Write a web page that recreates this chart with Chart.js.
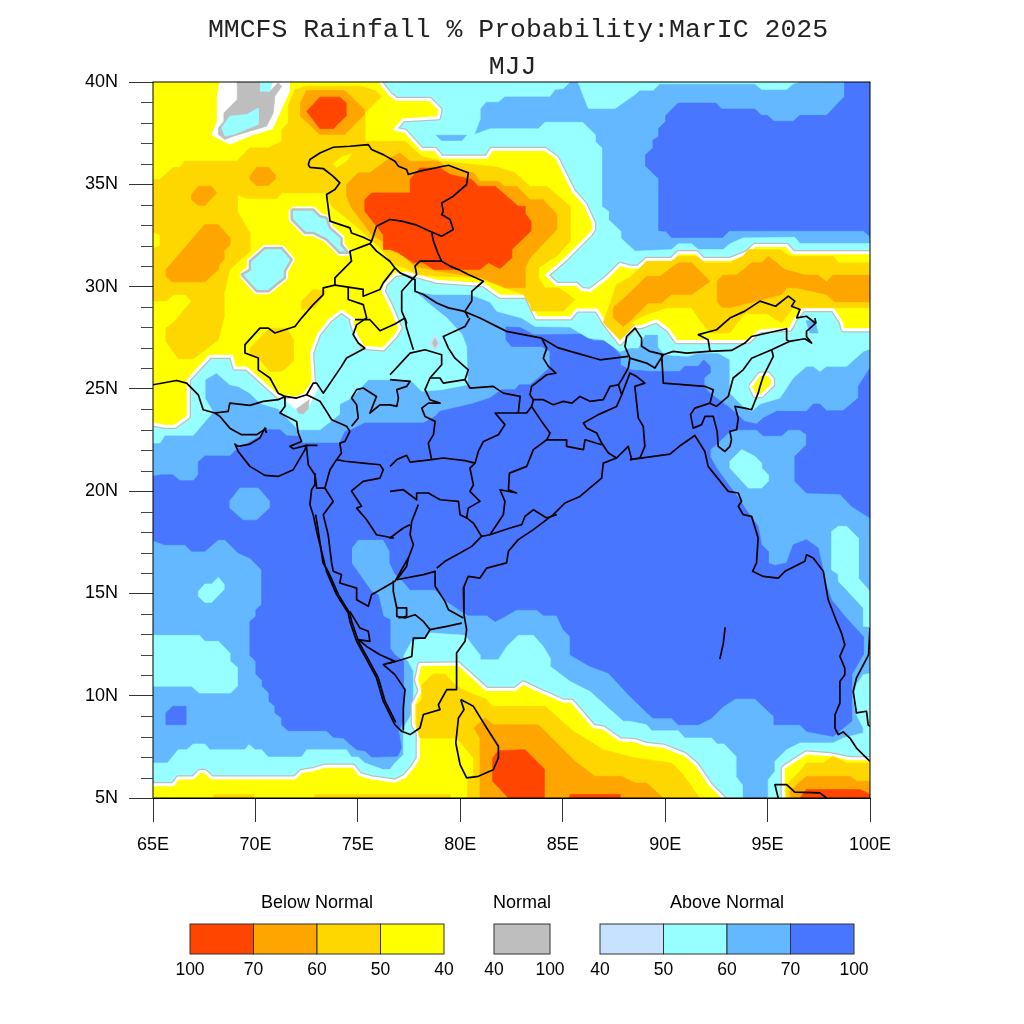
<!DOCTYPE html>
<html>
<head>
<meta charset="utf-8">
<title>MMCFS Rainfall % Probability</title>
<style>
html,body{margin:0;padding:0;background:#fff}
#box{position:absolute;left:0;top:0;width:1024px;height:1024px}
</style>
<script src="https://cdn.jsdelivr.net/npm/chart.js@4/dist/chart.umd.min.js"></script>
</head>
<body>
<div id="box"><canvas id="chart" width="1024" height="1024"></canvas></div>
<script>
'use strict';
// ---- text ----
const titleText = 'MMCFS Rainfall % Probability:MarIC 2025';
const subtitleText = 'MJJ';
const lonLabels = ['65E','70E','75E','80E','85E','90E','95E','100E'];
const latLabels = ['5N','10N','15N','20N','25N','30N','35N','40N'];

// ---- colour classes (legend) ----
const belowColors = ['#FF4500','#FFA500','#FFD700','#FFFF00'];
const belowLabels = ['100','70','60','50','40'];
const normalColors = ['#BEBEBE'];
const normalLabels = ['40','100'];
const aboveColors = ['#C6E2FF','#97FFFF','#63B8FF','#4876FF'];
const aboveLabels = ['40','50','60','70','100'];

// ---- probability regions, flat lon,lat lists ----
const fieldBase = [64,4, 101,4, 101,41, 64,41];
const above70North = [98.77,41, 98.77,39.3, 97.88,38.37, 96.58,38.37, 96.25,38.08, 95.31,38.08, 94.98,38.37, 94.71,38.37, 94.38,38.68, 92.75,38.68, 92.48,38.97, 90.64,38.97, 90.04,38.37, 90.04,38.08, 89.7,37.75, 89.7,37.34, 89.42,37.18, 89.42,36.8, 89.06,36.45, 89.06,35.88, 89.7,35.26, 89.7,32.73, 90.04,32.7, 90.31,32.4, 92.8,32.4, 93.13,32.73, 99.67,32.73, 100,32.45, 101,32.45, 101,41];
const above70Main = [64,20.56, 65.42,20.8, 65.96,20.8, 66.31,20.51, 66.97,20.51, 67.21,20.8, 67.21,21.42, 67.53,21.72, 68.75,21.72, 69.08,22.03, 69.65,22.35, 70.22,22.68, 70.46,23, 71.2,23, 71.52,22.71, 72.09,22.68, 72.3,22.35, 74.12,22.35, 74.37,22.92, 74.69,23, 75.34,23.33, 76.81,23.33, 78.2,23.33, 78.77,23.65, 79.01,23.9, 80.56,24.26, 81.45,24.55, 82.02,24.96, 82.67,24.96, 82.88,25.2, 83.4,25.2, 83.81,25.53, 84.38,26.05, 84.38,26.83, 83.97,27.07, 82.51,27.07, 82.23,27.4, 82.23,28.02, 82.92,28, 83.57,27.65, 84.3,27.65, 86.01,27.68, 86.5,27.35, 87.15,27.35, 87.8,26.67, 87.8,26.18, 88.28,25.93, 89.34,25.85, 89.99,25.85, 90.72,25.85, 90.96,26.1, 91.62,26.1, 91.89,26.42, 92.19,26.1, 92.19,25.77, 91.89,25.53, 91.89,25.12, 92.19,24.79, 93.16,24.06, 93.89,23.41, 94.46,23.28, 94.79,23.57, 95.44,23.9, 96.9,23.9, 97.23,24.26, 97.55,24.26, 97.88,23.93, 98.69,23.93, 99.43,24.55, 99.43,25.12, 100,26.02, 101,26.02, 101,18.69, 100,18.69, 99.1,19.26, 98.53,19.86, 96.9,19.91, 96.33,20.48, 96.33,21.7, 96.9,22.27, 96.9,22.76, 96.58,23, 96.01,23, 95.68,22.71, 94.79,22.71, 94.46,23, 93.49,23, 93.16,22.92, 92.48,22.27, 92.19,22.03, 92.19,21.7, 92.51,21.13, 93.16,20.23, 93.65,19.58, 93.89,19.17, 94.54,18.28, 94.71,17.38, 95.03,17.06, 95.03,16.49, 95.36,16.37, 95.93,16.49, 96.25,17.38, 96.9,17.63, 97.47,17.22, 97.64,16.49, 97.88,15.35, 98.12,14.69, 98.77,13.88, 99.67,12.9, 99.67,12, 99.1,11.03, 99.1,8.75, 98.2,8.01, 96.9,8.26, 96.58,8.58, 95.31,8.58, 95.31,8.99, 94.38,9.86, 93.45,9.86, 92.84,9.48, 92.27,8.91, 91.62,8.58, 90.64,8.58, 90.31,8.91, 89.39,8.91, 88.28,9.97, 87.23,11.11, 86.33,11.44, 85.36,12, 85.36,12.9, 85.03,13.23, 84.7,13.93, 84.05,13.93, 83.73,14.2, 82.75,14.2, 82.1,13.83, 81.7,13.63, 81.29,13.93, 80.35,13.93, 79.34,14.61, 78.77,15.18, 77.55,15.18, 77.14,15.67, 76.81,15.95, 76.56,16.49, 76.56,17.06, 76.24,17.63, 75.02,17.63, 74.69,17.22, 74.69,16.49, 75.67,15.1, 76,14.94, 76.24,13.88, 76.56,13.72, 76.56,12.33, 76.81,12, 77.22,11.68, 77.22,8.75, 76.98,8.26, 77.14,7.44, 76.93,7.04, 75.67,7, 75.34,7.31, 74.94,7.36, 74.61,7.64, 74.29,7.93, 73.8,7.97, 73.47,8.29, 71.6,8.29, 71.28,8.58, 71.28,8.91, 70.95,9.16, 70.95,9.48, 70.66,9.73, 70.66,10.13, 70.33,10.46, 70.33,10.74, 70.02,11.06, 70.02,11.68, 69.73,11.97, 69.73,13.63, 70.02,13.88, 70.02,14.2, 70.3,14.45, 70.3,16.16, 69.73,16.73, 69.16,16.98, 68.51,17.63, 68.19,17.63, 67.53,17.06, 66.88,17.06, 66.56,17.38, 65.58,17.38, 64,17.95];
const above70Small = [65.63,9.16, 65.96,9.48, 66.6,9.48, 66.6,8.58, 65.63,8.58];
const above60Hex = [68.75,19.53, 69.24,20.15, 70.14,20.15, 70.67,19.53, 70.67,19.17, 70.06,18.6, 69.41,18.6, 68.75,19.17];
const above50North = [64,22.35, 64,41, 85.36,41, 85.36,40, 85.03,39.68, 84.62,39.63, 84.38,39.3, 82.18,39.3, 81.86,39.03, 81.26,39.03, 80.96,38.68, 80.96,38.16, 80.69,37.43, 81.45,37.71, 83.81,37.71, 84.14,38.03, 85.97,38.03, 86.58,37.43, 86.58,37.1, 86.9,36.78, 86.9,33.93, 87.23,33.68, 87.23,33.28, 87.83,32.71, 87.83,32.38, 88.53,31.73, 90.31,31.81, 90.64,32.09, 91.29,32.09, 91.62,31.81, 92.84,31.81, 93.16,32.09, 93.81,32.38, 96.33,32.41, 96.58,32.1, 101,32.1, 101,27.32, 99.67,26.83, 98.86,26.1, 97.88,26.1, 97.55,25.85, 97.23,26.1, 96.9,26.1, 96.25,25.53, 95.93,25.04, 95.6,24.55, 94.63,24.26, 94.22,23.9, 93.89,24.06, 93.16,24.79, 93.16,26.42, 92.59,26.75, 91.62,26.75, 91.13,26.59, 89.99,26.67, 89.66,27.03, 89.66,27.65, 89.01,27.65, 88.69,27, 88.28,27, 87.8,26.83, 86.98,27.4, 86.25,27.48, 85.36,28.02, 83.65,28.05, 83,28.46, 81.78,28.79, 81.45,29.25, 80.47,29.61, 78.69,29.61, 77.79,29.77, 78.52,29.12, 79.34,28.47, 80.07,27.68, 80.31,27.07, 80.35,25.53, 80.35,25.2, 79.09,24.96, 78.12,24.88, 77.55,25.45, 76.57,25.45, 75.51,25.45, 74.69,24.55, 74.12,24.26, 74.09,23.74, 73.15,23, 72.09,23, 71.11,24.03, 70.22,24.3, 69.73,24.79, 69.16,25.12, 68.75,25.2, 68.1,25.77, 67.53,25.45, 67.53,24.55, 67.94,23.87, 66.97,22.73, 65.58,22.73, 65.34,22.35];
const above50Top = [85.36,41, 86.25,38.7, 87.55,38.7, 88.53,39.39, 88.77,39.6, 89.42,39.6, 89.74,39.91, 94.38,39.91, 94.71,39.63, 95.93,39.63, 96.25,39.91, 96.58,40, 96.58,41];
const above50South = [64,6.71, 65.7,6.71, 66.23,7.36, 66.64,7.36, 66.97,7.64, 67.53,7.64, 67.78,7.36, 69.49,7.36, 69.68,7.61, 69.98,7.36, 70.3,7.36, 70.63,7, 72.25,7, 72.5,7.36, 74.45,7.36, 74.69,7, 75.02,7, 75.34,6.71, 76.24,6.39, 76.56,6.39, 76.81,6.71, 77.22,7.12, 77.22,8.42, 77.71,9.24, 77.71,10.21, 77.71,11.19, 77.46,11.68, 77.22,11.92, 77.63,12.66, 78.28,12.82, 78.52,13.07, 80.23,12.95, 80.64,12.41, 80.96,12, 80.96,11.76, 81.86,11.76, 82.27,12.41, 82.83,12.95, 83.57,12.95, 84.05,12.41, 84.38,11.84, 84.38,11.44, 85.36,10.7, 86.33,10.21, 87.23,9.4, 87.96,8.75, 88.28,8.75, 89.09,8.58, 89.34,8.29, 90.64,8.29, 90.96,7.93, 92.27,7.93, 92.54,7.64, 92.87,7.64, 93.45,7.04, 93.45,6.06, 93.76,5.65, 93.76,4, 64,4];
const above50SouthEast = [95.03,4, 95.03,5.9, 95.36,6.3, 95.36,6.79, 95.93,7.36, 96.58,7.69, 98.2,7.69, 98.69,7.93, 99.67,8.18, 99.67,8.42, 99.34,9.07, 99.18,9.89, 99.34,10.54, 99.67,11.03, 101,11.27, 101,4];
const above50East = [98.12,18.03, 98.45,18.28, 98.86,18.28, 99.43,17.71, 99.43,16.49, 99.43,15.75, 100,15.1, 101,15.1, 101,13.31, 99.67,13.39, 99.67,14.29, 98.77,15.27, 98.45,15.59, 98.45,15.92, 98.12,16.16, 98.12,16.73];
const above50Myanmar = [93.16,21.46, 93.73,22.03, 94.38,21.7, 94.71,21.37, 94.71,21.13, 95.03,20.8, 95.03,20.48, 94.71,20.15, 94.06,20.15, 93.16,21.13];
const above50Arabian = [67.21,15.1, 67.53,15.46, 67.86,15.46, 68.19,15.79, 68.46,15.46, 68.46,15.18, 67.86,14.56, 67.53,14.56, 67.21,14.86];
const above50West = [64,12.95, 67.26,12.95, 67.53,12.66, 68.19,12.66, 68.75,12.09, 68.75,11.71, 69.11,11.39, 69.11,10.46, 68.79,10.13, 67.26,10.13, 66.88,10.46, 64,10.46];
const above60Small = [96.88,28.33, 97.31,28.33, 97.47,27.73, 97.07,27.73];
const above60Tibet = [78.82,37.4, 80.31,37.4, 80.07,37.14, 79.09,37.14];
const above40Spot = [78.49,27.24, 78.77,27.65, 79.01,27.24, 78.77,26.86];
const normalSpot = [78.64,27.24, 78.77,27.48, 78.9,27.24, 78.77,27.0];

const below40North = [64,23.49, 65.58,23.17, 66.07,23.17, 66.72,23.65, 66.72,25.45, 67.78,26.59, 68.84,26.59, 69,26.02, 69.57,26.02, 71.11,24.63, 71.44,24.63, 72.01,24.55, 72.42,24.75, 72.82,25.36, 72.74,26.75, 73.07,27.65, 73.64,28.38, 74.21,28.8, 74.78,28.39, 74.69,28.3, 74.9,27.65, 75.26,27.03, 76.24,26.96, 76.81,27.56, 77.06,27.97, 76.57,29.12, 76.24,29.77, 76.32,30.1, 76.81,30.59, 77.38,30.67, 78.85,30.26, 81.13,30.1, 81.94,29.53, 83.24,29.53, 83.73,28.47, 85.36,28.47, 85.68,28.85, 86.66,28.85, 86.9,28.47, 86.98,28.3, 87.8,27.24, 88.53,28.05, 88.85,28.05, 89.58,28.33, 90.15,27.89, 90.56,27.32, 94.06,27.32, 94.63,27.84, 96.09,27.92, 96.33,28.38, 96.74,28.88, 98.2,28.88, 98.61,28.23, 98.69,27.89, 101,27.89, 101,31.65, 96.25,31.65, 95.93,32.01, 94.38,32.01, 93.98,31.65, 93.16,31.32, 91.86,31.32, 91.53,31.65, 90.64,31.65, 90.31,31.32, 89.09,31.32, 88.69,30.95, 88.28,30.95, 87.8,31.08, 87.15,30.43, 86.33,29.81, 85.93,29.86, 85.68,30.1, 84.71,30.1, 84.22,30.56, 85.11,31.32, 86.33,32.54, 86.5,32.79, 86.5,33.11, 86.09,34.01, 85.52,34.66, 85.03,35.64, 84.71,36.29, 84.14,36.7, 81.53,36.7, 81.29,36.32, 79.09,36.32, 78.77,36.7, 78.12,36.7, 77.3,37.59, 76.81,37.68, 77.22,38.16, 78.93,38.25, 79.01,38.65, 78.52,39.14, 76.9,39.14, 76.57,39.39, 76.24,39.79, 75.51,41, 71.61,41, 71.61,39.55, 70.79,37.76, 69.73,37.43, 68.76,37.02, 67.94,37.43, 68.19,38.08, 68.19,39.3, 68.51,41, 64,41];
const below40South = [64,5.65, 65.99,5.65, 66.23,5.98, 66.97,5.98, 67.29,6.3, 67.53,6.3, 67.86,5.98, 71.93,5.98, 72.25,6.3, 72.82,6.38, 73.39,6.55, 74.77,6.55, 75.1,6.14, 75.67,5.98, 76.24,5.9, 76.81,5.82, 77.3,6.06, 77.71,6.55, 77.95,6.96, 77.95,8.18, 77.71,8.58, 77.71,9.56, 78.03,10.21, 77.87,10.78, 78.03,11.52, 79.91,11.55, 81.29,10.3, 82.67,10.3, 83.08,10.62, 83.73,10.3, 84.3,10.05, 85.03,9.73, 85.44,9.73, 86.5,8.5, 86.98,8.42, 87.8,7.85, 88.53,7.8, 89.09,7.61, 89.91,7.53, 90.96,7.12, 91.53,6.63, 92.19,5.65, 92.84,5, 93.2,4.5, 64,4];
const below40SouthEast = [95.77,4, 95.77,6.47, 96.25,6.79, 96.9,7.2, 98.04,7.12, 99.02,6.92, 101,6.92, 101,4];
const below40Spot = [94.17,25.12, 94.63,25.72, 95.03,25.72, 95.24,25.45, 95.24,25.2, 94.71,24.68, 94.38,24.68];
const islandWest = [71.77,33.77, 72.82,33.77, 73.15,33.44, 73.47,33.36, 73.64,32.87, 74.2,32.38, 74.2,32.05, 74.53,31.65, 74.12,31.65, 73.47,32.3, 72.82,32.62, 72.42,32.62, 71.77,33.28];
const islandSouth = [69.32,30.59, 69.73,30.83, 69.73,31.24, 70.46,31.89, 71.28,31.89, 71.77,31.32, 71.44,30.75, 71.44,30.43, 70.63,29.77, 70.06,29.77];
const gapNorth = [71.61,41, 71.61,39.55, 70.79,37.76, 69.73,37.43, 68.76,37.02, 67.94,37.43, 68.19,38.08, 68.19,39.3, 68.51,41];
const normalNorth = [69.11,41, 70.22,41, 70.22,39.55, 70.71,39.55, 71.11,39.96, 71.28,39.79, 70.95,39.3, 70.87,38.49, 70.54,37.84, 68.92,37.35, 68.51,37.19, 68.19,37.43, 68.19,37.76, 68.46,38.08, 68.46,38.49, 69.11,39.14, 69.11,39.71];
const northTopCyan = [70.22,41, 71.11,41, 70.71,39.55, 70.25,39.55];
const northLowCyan = [68.35,37.76, 68.75,38.33, 69.57,38.41, 70.14,38.73, 70.14,37.92, 68.92,37.43, 68.51,37.35];
const gapKutch = [71.44,24.47, 72.01,24.55, 72.42,24.75, 72.82,25.36, 73.07,25.04, 72.82,24.55, 72.58,24.06, 72.17,23.9, 71.77,24.14];
const normalKutch = [72.01,24.03, 72.63,24.47, 72.58,24.03, 72.33,23.77, 72.09,23.82];

const below50North = [64,35.23, 65.34,35.23, 65.99,35.83, 66.31,35.83, 66.56,36.13, 69.08,36.13, 69.73,36.78, 70.63,36.78, 71.28,37.1, 71.28,37.67, 71.6,38, 71.6,38.82, 71.93,39.63, 72.5,39.79, 75.18,39.79, 75.91,39.55, 76.16,39.3, 75.34,38.49, 75.34,37.51, 75.34,37.1, 76.56,37.1, 77.3,37.1, 78.12,36.37, 79.09,36.13, 81.78,35.85, 82.67,35.56, 83.4,34.9, 84.22,34.9, 85.36,33.93, 85.36,32.22, 84.79,31.57, 83.81,30.91, 83.81,30.43, 84.14,29.94, 84.79,29.94, 85.6,29.37, 85.03,28.8, 83.49,28.8, 83.4,29.12, 83.08,29.61, 82.18,29.94, 81.21,30.43, 78.85,30.51, 77.95,30.59, 77.3,30.91, 76.73,31.08, 76.08,31.89, 75.02,32.87, 73.72,33.93, 73.47,34.58, 71.28,34.58, 71.03,34.3, 69.57,34.3, 69.11,34.5, 69.11,33.68, 69.73,32.62, 69.73,31.73, 68.75,30.83, 68.46,29.61, 68.46,28.47, 68.19,27.4, 66.97,26.47, 66.23,26.47, 65.63,27.32, 65.63,27.97, 65.99,28.22, 66.88,29.29, 66.56,29.61, 65.99,29.61, 65.66,29.29, 64,29.29, 64,31.65, 65.34,31.97, 65.34,32.54, 64,33];
const below40Kashmir = [73.8,36, 74.2,36.32, 74.69,36.49, 74.45,36.13, 73.96,35.83];
const below50Punjab = [72.25,29.29, 72.82,29.86, 73.47,29.77, 72.9,28.96, 72.25,28.88];
const below50Sind = [69.73,26.99, 70.71,27.97, 71.52,27.97, 71.85,27.4, 71.85,26.34, 71.28,25.85, 70.71,25.85, 70.06,26.59, 69.73,26.67];
const below50East = [86.98,28.23, 87.63,30.1, 88.28,30.46, 88.77,30.91, 89.09,31.24, 90.31,31.24, 90.64,31.48, 91.53,31.48, 91.94,31.16, 93.16,31.16, 93.81,31.48, 94.06,31.81, 95.6,31.81, 96.09,31.48, 98.2,31.48, 98.45,31.16, 101,31.16, 101,28.96, 96.25,28.96, 95.93,28.55, 95.68,28.23, 94.95,28.67, 93.89,28.67, 93.52,28.23, 93.16,27.73, 92.19,27.73, 91.62,28.46, 91.29,28.96, 90.07,28.96, 89.09,28.63, 88.28,28.23, 88.53,28.13, 87.8,27.4, 87.23,27.97];
const below50South = [77.87,9.56, 78.12,9.81, 78.12,10.54, 78.69,11.06, 79.25,11.06, 79.82,10.46, 80.47,10.13, 81.29,9.81, 81.53,9.48, 84.14,9.48, 84.79,8.91, 85.52,8.26, 86.33,7.77, 86.98,7.36, 88.53,6.96, 90.31,6.71, 90.88,6.14, 91.62,5.08, 92,4, 80.35,4, 80.35,5.82, 80.64,6.14, 80.64,6.96, 79.82,7.93, 78.03,7.93, 77.87,8.42];
const below50StripA = [67.78,4, 67.98,5.17, 69.9,5.17, 70.1,4];
const below50StripB = [72.7,4, 72.9,5.17, 79.5,5.17, 79.8,4];
const below50SouthEast = [95.93,4, 95.93,5.65, 96.58,6.3, 96.9,6.71, 97.72,6.71, 98.2,7.04, 98.86,6.71, 101,6.71, 101,4];
const below60Himalaya = [74.45,34.99, 75.02,35.56, 75.59,35.56, 76.56,36.29, 77.06,36.53, 77.55,36.13, 78.93,36.13, 79.25,35.88, 80.64,35.56, 80.96,35.15, 81.86,35.15, 82.18,34.9, 82.75,34.9, 83.4,34.25, 84.05,34.25, 84.71,33.52, 84.71,32.79, 83.4,31.4, 83.16,30.91, 83.16,29.94, 82.18,29.94, 80.96,30.43, 79.01,30.75, 77.79,30.99, 76.9,31.81, 75.67,32.54, 74.69,33.85, 74.45,34.42];
const below60Top = [72.2,38.98, 72.5,39.58, 74.37,39.58, 75.31,38.65, 75.31,38.41, 74.37,37.43, 73.15,37.43, 72.2,38.33];
const below60Dot = [69.73,35.39, 70.06,35.83, 70.63,35.83, 70.95,35.48, 70.95,35.23, 70.63,34.94, 70.06,34.94, 69.73,35.23];
const below60Dot2 = [66.88,34.5, 67.21,34.91, 67.86,34.91, 68.1,34.58, 67.53,33.96, 67.21,33.96, 66.88,34.25];
const below60West = [65.63,30.83, 67.53,33.03, 68.19,33.03, 68.75,32.38, 68.75,32.05, 68.46,31.73, 68.46,31.32, 68.19,30.99, 68.19,30.83, 67.53,30.23, 65.91,30.23, 65.63,30.51];
const below60EastA = [87.47,28.96, 88.28,29.7, 89.09,30.5, 89.74,30.5, 90.64,31.16, 91.29,31.16, 92.19,30.26, 91.29,29.61, 90.31,29.61, 89.82,29.2, 89.18,29.2, 88.28,28.31, 87.96,28.05, 87.47,28.46];
const below60EastB = [92.54,30.26, 92.84,30.56, 93.49,30.56, 94.22,31.16, 94.71,31.16, 95.03,31.48, 95.85,30.83, 96.82,30.56, 97.47,30.56, 97.88,30.23, 98.2,30.56, 101,30.56, 101,29.25, 98.29,29.25, 97.88,29.61, 96.42,29.94, 95.93,29.94, 95.68,29.61, 93.16,28.96, 92.75,28.99, 92.54,29.29];
const below60South = [80.67,8.42, 81.21,8.91, 81.61,8.58, 83.81,8.58, 84.95,7.44, 85.6,6.79, 86.58,6.06, 87.88,6.06, 88.53,5.73, 89.09,5.73, 89.91,5, 90.3,4, 80.96,4, 80.96,7.93];
const below60SouthEast = [96.2,4, 96.09,5.33, 96.42,5.65, 96.9,6.06, 99.02,6.06, 99.34,5.82, 101,5.82, 101,4];
const below70Himalaya = [75.34,34.25, 75.67,34.58, 77.55,34.58, 77.55,35.23, 78.03,35.8, 79.01,35.8, 79.5,35.48, 80.56,35.23, 80.88,34.9, 81.7,34.9, 82.83,33.93, 83.16,33.93, 83.16,33.6, 83.44,33.2, 83.44,32.71, 82.51,31.81, 82.51,31.4, 81.94,30.88, 81.37,31.16, 80.96,30.83, 78.69,30.83, 78.2,31.16, 77.71,31.16, 76.98,31.65, 76.57,31.81, 76.24,31.81, 76.24,32.54, 75.34,33.68];
const below70Top = [72.5,38.57, 73.15,39.26, 74.12,39.26, 74.42,38.98, 74.42,38.33, 73.8,37.72, 73.15,37.72];
const below70South = [81.58,6.96, 81.86,7.31, 83.16,7.36, 84.09,6.43, 84.09,4, 82.35,4, 82.35,5, 81.58,5.82];
const below70Strip = [85.2,4, 85.36,5.17, 87.8,5.17, 88,4];
const below70SouthEast = [96.5,4, 96.58,5, 96.9,5.41, 99.5,5.41, 100,5.2, 101,5.2, 101,4];

// ---- coast and state lines, lon,lat ----
const borderLines = [
  [72.58,35.96, 72.66,36.21, 73.15,36.53, 73.8,36.81, 74.61,36.86, 75.51,36.94, 75.67,36.7, 76.24,36.45, 76.81,36.13, 76.98,35.88, 77.38,35.72, 77.46,35.48, 78.03,35.64, 79.17,35.88, 79.42,35.93, 80.39,35.56, 80.31,34.99, 79.66,34.42, 79.09,34.09, 79.17,33.68, 79.09,33.52, 79.5,33.28, 79.66,32.79, 79.09,32.46, 78.6,32.67, 77.79,33.03, 77.14,33.2, 76.57,33.28, 75.91,32.95],
  [72.58,35.96, 72.66,35.83, 73.31,35.77, 73.8,35.39, 74.12,35.07, 73.88,34.74, 73.47,34.5, 73.64,33.2, 74.61,32.87, 74.69,32.62, 75.26,32.41, 75.67,32.22, 75.91,32.95],
  [78.6,32.67, 78.69,32.22, 78.93,31.57, 79.09,31.24, 79.5,31, 79.91,30.83, 80.39,30.59, 81.13,30.26, 80.56,29.77, 80.56,29.29, 80.23,28.8, 80.39,28.47],
  [79.09,31.24, 78.03,31.24, 77.79,31, 77.87,30.59, 77.14,29.77, 77.14,28.8, 77.38,28.23, 77.3,28.46],
  [77.79,30.34, 77.79,29.77, 78.2,29.61, 78.85,29.2, 79.42,28.96, 80.15,28.8, 80.96,28.46, 82.26,27.81, 83.08,27.65, 83.97,27.48, 84.79,27, 85.68,26.75, 86.82,26.42, 88.2,26.59],
  [83.97,27.48, 84.22,26.99, 84.05,26.5, 84.3,26.1, 84.67,25.77, 84.22,25.69, 83.48,25.12, 83.4,24.71, 83.57,24.47, 84.05,24.47, 84.54,24.22, 85.03,24.39, 85.45,24.3, 85.84,24.63, 86.33,24.39, 86.98,24.47, 87.31,25.12, 87.72,25.2, 87.88,24.71, 87.63,24.14, 86.74,23.74, 86.01,23.33, 86.17,23.08, 86.66,22.84, 86.9,22.35, 87.23,21.86, 87.63,21.62],
  [87.72,25.2, 87.88,25.45, 88.2,26.02, 88.28,26.5, 88.04,27.07, 88.12,27.56, 88.53,27.97, 88.85,27.48, 88.85,27.08, 89.26,26.83, 89.91,26.67, 90.4,26.83, 91.05,26.75, 92.1,26.83, 93.24,26.88, 93.89,27.24, 94.22,27.56, 95.93,27.94, 95.93,27.4, 96.06,27.32, 96.82,27.45, 97.15,27.24, 96.9,27.56, 96.9,27.81, 97.36,28.22, 97.31,28.46],
  [92.19,26.83, 92.1,27.4, 91.62,27.65, 92.51,27.89, 93.16,28.46, 93.89,28.8, 94.63,29.29, 95.39,29.04, 96.01,29.53, 96.33,29.29, 96.17,29.04, 96.58,28.88, 96.42,28.47, 96.9,28.55, 97.31,28.23],
  [96.06,27.32, 95.2,26.91, 95.28,26.59, 94.79,25.61, 94.63,25.12, 94.54,24.79, 94.22,23.98, 93.89,24.06, 93.41,24.14, 93.57,23.57, 93.49,23, 93.16,22.92, 93.24,22.51, 93.16,22.19, 92.92,21.94, 92.59,22.19, 92.54,22.92, 92.35,23.65, 91.94,23.65, 91.78,23.25, 91.37,23.08, 91.24,23.74, 91.45,24.06, 92.19,24.3, 92.35,24.96, 91.94,25.12, 89.91,25.28, 89.83,26.67],
  [92.19,24.3, 92.51,24.14, 93.08,24.63, 93.32,25.53, 93.81,25.93, 94.22,26.5, 95.2,26.91],
  [88.28,26.5, 89.09,26.26, 89.5,26.02, 89.91,26.67],
  [87.88,24.71, 88.28,25.77, 88.6,25.61, 89.01,25.28, 88.52,25.12, 88.61,24.3, 88.69,23.57, 88.93,23.17, 89.01,22.19, 88.77,21.62, 88.28,21.54],
  [88.28,21.54, 90.23,21.81, 90.8,22.27, 91.45,22.72, 91.94,21.94, 92.1,21.21, 93.08,19.99, 93.57,19.91, 93.73,19.5, 93.57,19.26, 93.81,18.85, 94.22,18.77, 94.54,17.71, 94.46,16.49, 94.27,16.08, 94.79,15.83, 95.52,15.75, 95.85,16.08, 96.82,16.57, 96.9,16.89, 97.23,16.73, 97.72,16.08, 97.96,14.69, 98.37,13.63, 98.61,13.06, 98.77,12.49, 98.53,11.92, 98.77,11.35, 98.77,11.03, 98.53,10.7, 98.53,9.64, 98.29,9.07, 98.29,8.42, 98.45,8.1, 98.69,8.23, 99.02,7.93, 99.34,7.44, 100,6.79],
  [100,13.31, 99.93,12, 99.34,10.87, 99.18,10.21, 99.34,9.16, 99.83,9.24, 99.91,8.58, 100,8.5],
  [92.93,13.34, 92.84,12.57, 92.67,11.79],
  [95.52,5, 95.36,5.65, 95.93,5.65, 96.33,5.29, 97.55,5.25, 97.88,5],
  [88.37,21.54, 88.2,22.19, 87.63,21.62, 86.98,21.37, 86.9,20.64, 85.84,19.74, 85.11,19.42, 84.54,18.85, 83.57,18.12, 82.83,17.63, 82.35,17.06, 82.26,16.49, 81.29,16.24, 80.96,15.75, 80.39,15.83, 80.15,15.26, 80.18,13.96, 80.31,13.23, 80.23,12.66, 79.82,12.09, 79.82,10.3, 79.34,10.3, 78.93,9.56, 79.01,9.32, 78.2,9.08, 78.03,8.42, 77.55,8.1, 77.14,8.26, 76.81,8.58, 76.24,9.73, 75.91,10.87, 75.43,11.76, 74.94,12.66, 74.61,13.63, 74.53,14.04, 73.96,14.94, 73.47,16.08, 73.23,17.06, 72.99,18.03, 72.82,18.85, 72.66,19.34, 72.74,20.07, 72.9,20.31, 72.9,20.8, 72.58,21.29, 72.5,22.11, 72.5,22.27],
  [76.85,8.7, 76.33,9.73, 76,10.87, 75.52,11.76, 75.03,12.66, 74.7,13.63, 74.6,14.04, 74.05,14.94, 73.55,16.08, 73.3,16.49, 73.07,18.03, 72.94,18.85],
  [72.5,22.27, 72.42,22.03, 71.85,21.05, 71.11,20.72, 70.46,20.77, 69.73,21.21, 69.16,21.94, 69,22.3, 69.16,22.19, 69.73,22.3, 70.22,22.6, 70.46,23.08, 70.54,22.84],
  [70.54,23.08, 70.06,22.76, 69.32,22.76, 68.75,23.08, 68.27,23.65, 68.02,23.82],
  [65,25.2, 66.15,25.41, 66.64,25.28, 67.21,24.71, 67.45,23.98, 68.02,23.82, 68.67,23.9, 68.75,24.3, 69.73,24.19, 70.38,24.39, 71.11,24.47, 71.44,24.63, 71.11,24.79, 70.71,25.53, 70.14,25.93, 70.14,26.51, 69.49,26.75, 69.49,27.16, 70.22,27.97, 70.63,27.97, 70.95,27.73, 71.93,28.05, 72.25,28.46, 72.82,29.12, 73.31,29.61, 73.31,29.94, 73.88,30.07, 73.88,30.43, 74.69,31.24, 74.61,31.73, 75.59,32.1, 75.67,32.22],
  [75.59,32.1, 75.91,31.73, 76.56,31.24, 76.81,30.91, 77.06,30.67, 77.79,30.34],
  [73.88,30.07, 75.26,29.86, 75.26,29.53, 76.08,29.86, 76.24,30.18, 76.81,30.91],
  [74.53,29.94, 74.53,29.37, 75.26,29.12, 75.43,28.47, 74.94,28.13, 74.77,27.65, 75.02,27.24, 75.34,26.99, 74.45,26.51, 74.2,26.1, 73.31,24.79, 72.99,25.28, 72.82,25.28, 72.5,24.71, 72.01,24.55, 71.44,24.63, 71.44,24.14, 71.2,23.82, 72.01,23.41, 72.09,22.84, 72.25,22.43, 71.68,22.19, 71.85,22.07, 72.5,22.24, 73.03,22.24],
  [72.5,24.71, 73.15,24.39, 73.47,23.9, 73.72,23.49, 74.45,23.17, 74.61,22.92, 74.37,22.43, 74.12,22.35, 74.2,21.86, 73.96,21.54, 74.37,21.46, 75.26,21.37, 76.08,21.29, 76.24,21.05, 76.08,20.64, 75.26,20.48, 74.69,20.01, 75.18,19.26, 74.94,19.17, 75.43,18.6, 75.91,17.87, 76.73,17.71, 76.57,17.71, 77.22,18.2, 77.55,18.36],
  [72.9,20.88, 72.99,20.15, 73.39,20.15, 73.64,21.05, 73.96,21.54],
  [73.39,20.15, 73.8,19.5, 73.31,18.85, 73.55,17.87, 73.72,16.49, 73.8,16.08, 74.2,15.92, 74.12,15.51, 74.94,15.26, 74.94,14.69, 75.51,14.37, 75.67,14.94, 76.81,15.59, 77.46,16.73, 77.38,16.32, 76.9,15.67],
  [74.61,14.12, 75.1,13.31, 75.51,13.15, 75.59,12.66, 75.02,12.74, 75.43,12.41, 76.08,12, 76.81,11.68, 76.24,11.52, 76.81,11.03, 77.3,10.3, 77.22,9.4, 77.22,8.34],
  [76.9,15.67, 78.2,15.92, 78.77,16.08, 78.77,15.35, 79.25,14.61, 79.42,14.2, 80.15,13.8],
  [76.73,15.59, 76.73,15.1, 76.9,14.29, 76.9,13.88, 77.3,13.8, 77.79,13.96, 78.2,13.63, 78.52,13.23, 79.34,13.39, 80.07,13.55],
  [78.52,13.23, 78.28,12.82, 77.71,12.82, 77.63,11.92, 77.14,11.76, 76.57,11.6],
  [76.9,14.29, 77.38,14.29, 77.38,13.88, 76.98,13.8],
  [80.02,9.81, 80.64,9.48, 81.29,8.42, 81.86,7.53, 81.86,6.96, 81.61,6.38, 80.88,6.06, 80.31,5.98, 79.99,6.63, 79.78,7.69, 79.91,8.91, 80.18,9.32, 80.02,9.81],
  [76.57,19.99, 77.22,20.07, 77.87,19.58, 77.87,19.91, 78.44,19.91, 79.01,19.58, 79.91,19.5, 79.99,18.85, 80.31,18.69, 80.64,18.44, 81.04,17.79, 81.45,17.87, 82.43,18.2, 83,18.36, 83.16,18.77, 83.57,19.09, 84.22,18.69, 84.71,18.85],
  [77.95,19.34, 77.63,18.52, 77.55,17.87, 77.71,17.38, 77.38,16.49],
  [81.04,17.79, 80.56,17.3, 79.99,16.98, 79.25,16.57, 78.85,16.24],
  [76.57,21.21, 76.9,21.54, 77.38,21.75, 77.55,21.42, 78.6,21.54, 79.17,21.62, 80.23,21.49, 80.72,21.37, 80.88,21.94, 81.13,22.43, 81.86,22.76, 82.18,23.25, 81.7,23.82, 82.83,23.82, 82.92,24.63, 82.1,24.79, 81.61,25.12, 80.47,25.04, 80.23,25.45, 80.39,25.93, 79.74,26.5, 79.42,26.99, 79.17,27.56, 80.23,28.05, 80.47,28.46],
  [80.72,21.37, 80.47,21.13, 80.64,20.31, 80.47,19.99, 80.96,19.5, 80.39,19.17, 80.31,18.69],
  [82.83,23.82, 83.24,23.82, 83.48,24.14, 83.57,24.47],
  [83.48,24.14, 83.97,23.41, 84.38,22.84, 84.22,22.51, 83.57,22.03, 83.24,21.21, 82.4,20.88, 82.35,20.07, 82.75,19.91, 81.94,20.07, 82.18,19.5, 82.1,18.85, 81.45,17.87],
  [84.22,22.51, 85.19,22.51, 85.19,22.19, 86.01,22.03, 86.09,22.51, 86.9,22.27],
  [76.57,25.45, 77.55,25.37, 77.38,25.12, 76.9,24.96, 76.98,24.55, 76.9,24.14, 76.57,24.22, 76.08,24.22, 75.59,23.82, 75.91,24.63, 75.26,25.04, 74.94,24.96, 74.69,24.55, 74.94,24.22, 75.02,23.57, 74.69,23.17],
  [76.57,25.69, 77.55,26.75, 78.28,26.91, 79.09,26.67, 79.09,26.18, 78.52,25.53, 78.28,24.96, 78.52,24.47, 79.01,24.3, 78.44,24.3, 78.12,24.06, 78.28,23.65, 78.77,23.41, 78.69,22.76, 78.44,22.35, 78.6,21.54],
  [78.52,25.53, 79.01,25.53, 79.17,25.28, 80.23,25.45],
  [77.3,28.46, 77.38,27.97, 77.71,26.91],
  [74.86,28.38, 75.59,28.38, 76.08,27.84, 76.81,28.17, 77.3,28.46]
];

function toPoints(flat, close) {
  const pts = [];
  for (let i = 0; i < flat.length; i += 2) pts.push({x: flat[i], y: flat[i + 1]});
  if (close) pts.push({x: flat[0], y: flat[1]});
  return pts;
}

const WHITE = '#FFFFFF';
const RED = belowColors[0], ORANGE = belowColors[1], GOLD = belowColors[2], YELLOW = belowColors[3];
const GREY = normalColors[0];
const PALE = aboveColors[0], CYAN = aboveColors[1], MID = aboveColors[2], BLUE = aboveColors[3];
const SANS = '"Liberation Sans", Arial, sans-serif';
const MONO = '"Liberation Mono", monospace';

const datasets = [];
function region(flat, color, edge, edgeWidth) {
  datasets.push({
    data: toPoints(flat, true), showLine: true, fill: 'shape',
    backgroundColor: color, borderColor: edge || color,
    borderWidth: edgeWidth === undefined ? 0.6 : edgeWidth,
    borderJoinStyle: 'round', pointRadius: 0, tension: 0
  });
}
function edgeRing(flat, color, width) {
  datasets.push({
    data: toPoints(flat, true), showLine: true, fill: false,
    borderColor: color, borderWidth: width,
    borderJoinStyle: 'round', pointRadius: 0, tension: 0
  });
}

// paint order, lowest layer first
region(fieldBase, MID);
[above70North, above70Main, above70Small].forEach(r => region(r, BLUE));
region(above60Hex, MID);
[above50North, above50Top, above50South, above50SouthEast, above50East, above50Myanmar, above50Arabian, above50West].forEach(r => region(r, CYAN));
[above60Small, above60Tibet].forEach(r => region(r, MID));
region(above40Spot, PALE);
region(normalSpot, GREY);
[below40North, below40South, below40SouthEast, below40Spot].forEach(r => {
  edgeRing(r, GREY, 5.5);
  region(r, YELLOW, WHITE, 3);
});
region(gapNorth, WHITE, WHITE, 0);
region(normalNorth, GREY);
[northTopCyan, northLowCyan].forEach(r => region(r, CYAN));
region(gapKutch, WHITE, WHITE, 0);
region(normalKutch, GREY);
[islandWest, islandSouth].forEach(r => {
  edgeRing(r, WHITE, 6);
  region(r, CYAN, GREY, 2.5);
});
[below50North, below50Punjab, below50Sind, below50East, below50South, below50StripA, below50StripB, below50SouthEast].forEach(r => region(r, GOLD));
region(below40Kashmir, YELLOW);
[below60Himalaya, below60Top, below60Dot, below60Dot2, below60West, below60EastA, below60EastB, below60South, below60SouthEast].forEach(r => region(r, ORANGE));
[below70Himalaya, below70Top, below70South, below70Strip, below70SouthEast].forEach(r => region(r, RED));

borderLines.forEach(line => {
  datasets.push({
    data: toPoints(line, false), showLine: true, fill: false,
    borderColor: '#000000', borderWidth: 1.7,
    borderJoinStyle: 'round', pointRadius: 0, tension: 0
  });
});

// titles, frame, minor ticks and the three colour bars
const mapExtras = {
  id: 'mapExtras',
  afterDraw(chart) {
    const {ctx, chartArea: a, scales} = chart;
    ctx.save();
    ctx.strokeStyle = '#000';
    ctx.lineWidth = 1;
    ctx.strokeRect(a.left, a.top, a.right - a.left, a.bottom - a.top);
    ctx.strokeStyle = '#444';
    for (let v = scales.y.min; v <= scales.y.max; v++) {
      if (v % 5 === 0) continue;
      const py = Math.round(scales.y.getPixelForValue(v)) + 0.5;
      ctx.beginPath();
      ctx.moveTo(a.left - 12, py);
      ctx.lineTo(a.left, py);
      ctx.stroke();
    }
    ctx.textAlign = 'center';
    ctx.textBaseline = 'middle';
    ctx.fillStyle = '#222';
    ctx.font = '26.5px ' + MONO;
    ctx.fillText(titleText, 518, 30);
    ctx.fillText(subtitleText, 512.5, 67);
    drawBar(ctx, 190, 444, 'Below Normal', belowColors, belowLabels);
    drawBar(ctx, 494, 550, 'Normal', normalColors, normalLabels);
    drawBar(ctx, 600, 854, 'Above Normal', aboveColors, aboveLabels);
    ctx.restore();
  }
};
function drawBar(ctx, x0, x1, name, colors, labels) {
  const w = (x1 - x0) / colors.length;
  colors.forEach((c, i) => {
    ctx.fillStyle = c;
    ctx.fillRect(x0 + i * w, 924, w, 30);
    ctx.strokeStyle = '#333';
    ctx.lineWidth = 1;
    ctx.strokeRect(x0 + i * w, 924, w, 30);
  });
  ctx.fillStyle = '#000';
  ctx.font = '18px ' + SANS;
  ctx.fillText(name, (x0 + x1) / 2, 903.5);
  ctx.font = '17.5px ' + SANS;
  labels.forEach((t, i) => ctx.fillText(t, x0 + i * w, 970.5));
}

new Chart(document.getElementById('chart'), {
  type: 'scatter',
  data: {datasets: datasets.slice().reverse()},
  plugins: [mapExtras],
  options: {
    responsive: false,
    animation: false,
    events: [],
    layout: {padding: {top: 82, right: 154, bottom: 0, left: 0}},
    plugins: {legend: {display: false}, tooltip: {enabled: false}},
    scales: {
      x: {
        type: 'linear', min: 65, max: 100,
        afterFit(s) { s.height = 226; },
        grid: {drawOnChartArea: false, tickLength: 24, tickColor: '#333', tickWidth: 1},
        border: {color: '#000', width: 1},
        ticks: {
          stepSize: 5, autoSkip: false, maxRotation: 0, padding: 12, color: '#000',
          font: {family: SANS, size: 18},
          callback: v => lonLabels[(v - 65) / 5]
        }
      },
      y: {
        type: 'linear', min: 5, max: 40,
        afterFit(s) { s.width = 153; },
        grid: {
          drawOnChartArea: false, tickLength: 24, tickWidth: 1,
          tickColor: c => (c.tick.value % 5 === 0 ? '#333' : 'rgba(0,0,0,0)')
        },
        border: {color: '#000', width: 1},
        ticks: {
          stepSize: 1, autoSkip: false, maxRotation: 0, padding: 11, color: '#000',
          font: {family: SANS, size: 18},
          callback: v => (v % 5 === 0 ? latLabels[(v - 5) / 5] : '')
        }
      }
    }
  }
});
</script>
</body>
</html>
